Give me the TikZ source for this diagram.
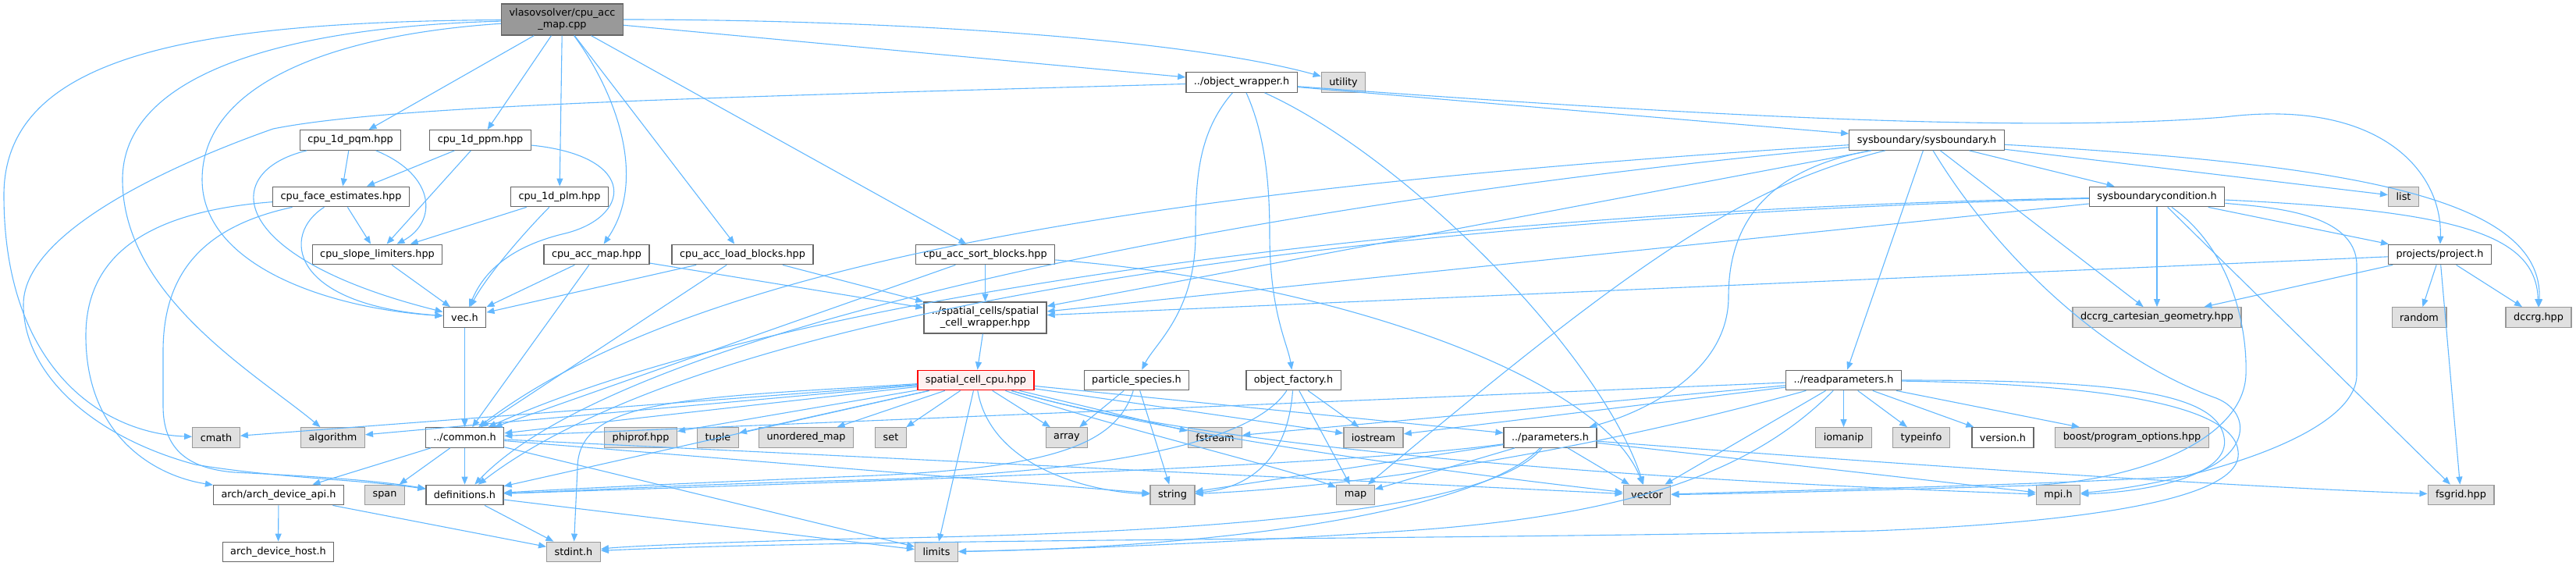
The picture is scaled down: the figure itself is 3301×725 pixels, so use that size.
\documentclass[tikz,border=0pt]{standalone}
\usepackage{xcolor}
\usepackage{fontspec}
\usepackage{tikz}
\usetikzlibrary{arrows.meta}
\newfontfamily\dvs{DejaVu Sans}
\definecolor{depblue}{HTML}{63B8FF}
\definecolor{boxgray}{HTML}{E0E0E0}
\definecolor{rootgray}{HTML}{999999}
\begin{document}
\begin{tikzpicture}[x=1pt,y=-1pt,
  file/.style={draw=black!60,fill=white,line width=1.3pt,inner xsep=10pt,inner ysep=0pt,minimum height=25.5pt,font=\dvs\fontsize{12.8}{15}\selectfont},
  ext/.style={file,draw=black!40,fill=boxgray},
  rootfile/.style={file,draw=black!60,fill=rootgray,align=center,minimum height=40pt},
  trunc/.style={file,draw=red,fill=red!6},
  dep/.style={draw=depblue,line width=1.1pt,-{Triangle[length=10pt,width=8pt]}}]
\useasboundingbox (0,0) rectangle (3301,725);

\node[rootfile] (root) at (720.5,25) {vlasovsolver/cpu\_acc\\\_map.cpp};
\node[file] (pqm) at (449,179.5) {cpu\_1d\_pqm.hpp};
\node[file] (ppm) at (615.5,179.5) {cpu\_1d\_ppm.hpp};
\node[file] (face) at (437,252) {cpu\_face\_estimates.hpp};
\node[file] (plm) at (717,252) {cpu\_1d\_plm.hpp};
\node[file] (slope) at (483.5,326) {cpu\_slope\_limiters.hpp};
\node[file] (accmap) at (764.5,326) {cpu\_acc\_map.hpp};
\node[file] (loadblk) at (951.5,326) {cpu\_acc\_load\_blocks.hpp};
\node[file] (sortblk) at (1262.5,326) {cpu\_acc\_sort\_blocks.hpp};
\node[file] (objw) at (1591,105.5) {../object\_wrapper.h};
\node[ext] (utility) at (1721.5,105.5) {utility};
\node[file] (sysb) at (2469,179.5) {sysboundary/sysboundary.h};
\node[file] (sysbc) at (2764,252) {sysboundarycondition.h};
\node[ext] (list) at (3080,252) {list};
\node[file] (project) at (3126.5,326) {projects/project.h};
\node[file] (vec) at (595.5,406.5) {vec.h};
\node[file,align=center,minimum height=40pt] (cellwrap) at (1262.5,407) {../spatial\_cells/spatial\\\_cell\_wrapper.hpp};
\node[ext] (dccrgcart) at (2764,406.5) {dccrg\_cartesian\_geometry.hpp};
\node[ext] (random) at (3100,406.5) {random};
\node[ext] (dccrg) at (3253,406.5) {dccrg.hpp};
\node[trunc] (cellcpu) at (1250.5,487) {spatial\_cell\_cpu.hpp};
\node[file] (species) at (1456.5,487) {particle\_species.h};
\node[file] (factory) at (1657.5,487) {object\_factory.h};
\node[file] (readp) at (2362.5,487) {../readparameters.h};
\node[ext] (cmath) at (277,560.5) {cmath};
\node[ext] (algorithm) at (426.5,560.5) {algorithm};
\node[file] (common) at (595.5,560.5) {../common.h};
\node[ext] (phiprof) at (821,560.5) {phiprof.hpp};
\node[ext] (tuple) at (920,560.5) {tuple};
\node[ext] (umap) at (1033,560.5) {unordered\_map};
\node[ext] (set) at (1141.5,560.5) {set};
\node[ext] (array) at (1367,560.5) {array};
\node[ext] (fstream) at (1557,560.5) {fstream};
\node[ext] (iostream) at (1760,560.5) {iostream};
\node[file] (params) at (1986.5,560.5) {../parameters.h};
\node[ext] (iomanip) at (2362.5,560.5) {iomanip};
\node[ext] (typeinfo) at (2462,560.5) {typeinfo};
\node[file] (version) at (2566.5,560.5) {version.h};
\node[ext] (boost) at (2732,560.5) {boost/program\_options.hpp};
\node[file] (archapi) at (357,634) {arch/arch\_device\_api.h};
\node[ext] (span) at (493,634) {span};
\node[file] (defs) at (595.5,634) {definitions.h};
\node[ext] (string) at (1502.5,634) {string};
\node[ext] (map) at (1737,634) {map};
\node[ext] (vector) at (2110.5,634) {vector};
\node[ext] (mpi) at (2637.5,634) {mpi.h};
\node[ext] (fsgrid) at (3153.5,634) {fsgrid.hpp};
\node[file] (archhost) at (356.5,707) {arch\_device\_host.h};
\node[ext] (stdint) at (735,707) {stdint.h};
\node[ext] (limits) at (1200,707) {limits};

\draw[dep] (root) .. controls (250,28) and (5,70) .. (5,250) .. controls (5,470) and (130,555) .. (cmath);
\draw[dep] (root) .. controls (350,35) and (157,100) .. (157,230) .. controls (157,380) and (330,480) .. (algorithm);
\draw[dep] (root) .. controls (420,45) and (259,110) .. (259,230) .. controls (259,340) and (420,395) .. (vec);
\draw[dep] (root) -- (pqm);
\draw[dep] (root) -- (ppm);
\draw[dep] (root) -- (plm);
\draw[dep] (root) .. controls (790,120) and (830,230) .. (accmap);
\draw[dep] (root) -- (loadblk);
\draw[dep] (root) -- (sortblk);
\draw[dep] (root) -- (objw);
\draw[dep] (root) .. controls (1100,25) and (1500,45) .. (utility);

\draw[dep] (pqm) -- (face);
\draw[dep] (pqm) .. controls (560,225) and (560,285) .. (slope);
\draw[dep] (pqm) .. controls (280,220) and (290,330) .. (vec);
\draw[dep] (ppm) -- (face);
\draw[dep] (ppm) -- (slope);
\draw[dep] (ppm) .. controls (820,200) and (810,280) .. (720,300) .. controls (640,320) and (615,360) .. (vec);
\draw[dep] (plm) -- (slope);
\draw[dep] (plm) .. controls (660,310) and (620,360) .. (vec);
\draw[dep] (face) -- (slope);
\draw[dep] (face) .. controls (360,300) and (370,390) .. (vec);
\draw[dep] (face) .. controls (200,270) and (110,320) .. (110,430) .. controls (110,560) and (200,610) .. (archapi);
\draw[dep] (face) .. controls (260,290) and (209,350) .. (209,450) -- (209,520) .. controls (209,575) and (240,600) .. (300,605) .. controls (400,610) and (480,615) .. (defs);
\draw[dep] (slope) -- (vec);
\draw[dep] (accmap) -- (vec);
\draw[dep] (accmap) -- (common);
\draw[dep] (accmap) -- (cellwrap);
\draw[dep] (loadblk) -- (vec);
\draw[dep] (loadblk) -- (common);
\draw[dep] (loadblk) -- (cellwrap);
\draw[dep] (sortblk) -- (common);
\draw[dep] (sortblk) -- (cellwrap);
\draw[dep] (sortblk) .. controls (1700,360) and (2050,480) .. (vector);
\draw[dep] (vec) -- (common);

\draw[dep] (common) -- (archapi);
\draw[dep] (common) -- (span);
\draw[dep] (common) -- (defs);
\draw[dep] (common) -- (string);
\draw[dep] (common) -- (vector);
\draw[dep] (common) -- (limits);
\draw[dep] (defs) -- (stdint);
\draw[dep] (defs) -- (limits);
\draw[dep] (archapi) -- (archhost);
\draw[dep] (archapi) -- (stdint);

\draw[dep] (objw) .. controls (900,125) and (500,135) .. (350,165) .. controls (250,200) and (30,290) .. (30,390) .. controls (30,480) and (120,560) .. (250,595) .. controls (350,612) and (470,615) .. (defs);
\draw[dep] (objw) .. controls (1535,170) and (1532,230) .. (1532,300) .. controls (1532,400) and (1480,440) .. (species);
\draw[dep] (objw) .. controls (1620,170) and (1627,230) .. (1627,300) .. controls (1627,400) and (1650,440) .. (factory);
\draw[dep] (objw) .. controls (1800,200) and (2050,450) .. (vector);
\draw[dep] (objw) -- (sysb);
\draw[dep] (objw) .. controls (2200,150) and (2600,170) .. (2850,150) .. controls (3050,125) and (3130,220) .. (project);

\draw[dep] (cellwrap) -- (cellcpu);
\draw[dep] (cellcpu) -- (cmath);
\draw[dep] (cellcpu) -- (algorithm);
\draw[dep] (cellcpu) -- (common);
\draw[dep] (cellcpu) -- (phiprof);
\draw[dep] (cellcpu) -- (tuple);
\draw[dep] (cellcpu) -- (umap);
\draw[dep] (cellcpu) -- (set);
\draw[dep] (cellcpu) -- (array);
\draw[dep] (cellcpu) -- (fstream);
\draw[dep] (cellcpu) -- (iostream);
\draw[dep] (cellcpu) -- (limits);
\draw[dep] (cellcpu) -- (params);
\draw[dep] (cellcpu) -- (defs);
\draw[dep] (cellcpu) .. controls (1400,540) and (1650,600) .. (map);
\draw[dep] (cellcpu) .. controls (1500,560) and (1900,610) .. (vector);
\draw[dep] (cellcpu) .. controls (1600,590) and (2300,622) .. (mpi);
\draw[dep] (cellcpu) .. controls (1270,600) and (1400,630) .. (string);
\draw[dep] (cellcpu) .. controls (880,510) and (740,510) .. (740,600) -- (stdint);

\draw[dep] (species) -- (array);
\draw[dep] (species) -- (string);
\draw[dep] (species) .. controls (1430,570) and (1350,600) .. (1100,610) .. controls (900,618) and (750,625) .. (defs);
\draw[dep] (factory) -- (iostream);
\draw[dep] (factory) -- (map);
\draw[dep] (factory) .. controls (1650,590) and (1600,625) .. (string);
\draw[dep] (factory) .. controls (1610,560) and (1450,605) .. (1100,615) .. controls (900,620) and (750,628) .. (defs);

\draw[dep] (params) -- (map);
\draw[dep] (params) -- (vector);
\draw[dep] (params) -- (string);
\draw[dep] (params) -- (mpi);
\draw[dep] (params) .. controls (2500,600) and (2900,625) .. (fsgrid);
\draw[dep] (params) .. controls (1900,650) and (1600,700) .. (limits);
\draw[dep] (params) .. controls (1900,670) and (1400,685) .. (1100,690) .. controls (900,695) and (800,700) .. (stdint);
\draw[dep] (params) .. controls (1700,600) and (1000,620) .. (defs);

\draw[dep] (readp) -- (common);
\draw[dep] (readp) -- (iostream);
\draw[dep] (readp) -- (fstream);
\draw[dep] (readp) .. controls (2100,560) and (1800,620) .. (string);
\draw[dep] (readp) -- (vector);
\draw[dep] (readp) -- (iomanip);
\draw[dep] (readp) -- (typeinfo);
\draw[dep] (readp) -- (version);
\draw[dep] (readp) -- (boost);
\draw[dep] (readp) .. controls (2250,600) and (2100,660) .. (1800,680) .. controls (1500,700) and (1300,705) .. (limits);
\draw[dep] (readp) .. controls (2700,487) and (2840,500) .. (2850,560) .. controls (2860,610) and (2750,630) .. (mpi);
\draw[dep] (readp) .. controls (2700,492) and (2875,520) .. (2868,585) .. controls (2860,650) and (2600,672) .. (2400,680) .. controls (1800,692) and (1100,690) .. (stdint);

\draw[dep] (sysb) -- (sysbc);
\draw[dep] (sysb) -- (list);
\draw[dep] (sysb) .. controls (3000,210) and (3260,250) .. (dccrg);
\draw[dep] (sysb) -- (dccrgcart);
\draw[dep] (sysb) -- (readp);
\draw[dep] (sysb) .. controls (2250,220) and (2215,300) .. (2215,380) .. controls (2215,480) and (2100,530) .. (params);
\draw[dep] (sysb) .. controls (2236,238) and (2100,330) .. (map);
\draw[dep] (sysb) -- (cellwrap);
\draw[dep] (sysb) .. controls (2560,330) and (2700,460) .. (2840,510) .. controls (2890,530) and (2880,590) .. (2800,610) .. controls (2600,622) and (2300,628) .. (vector);
\draw[dep] (sysb) .. controls (1500,240) and (900,330) .. (common);
\draw[dep] (sysb) .. controls (1600,260) and (800,420) .. (defs);

\draw[dep] (sysbc) -- (dccrgcart);
\draw[dep] (sysbc) -- (project);
\draw[dep] (sysbc) -- (fsgrid);
\draw[dep] (sysbc) .. controls (3150,270) and (3250,300) .. (dccrg);
\draw[dep] (sysbc) .. controls (2900,265) and (3020,270) .. (3020,340) -- (3020,480) .. controls (3020,560) and (2800,620) .. (mpi);
\draw[dep] (sysbc) .. controls (2860,320) and (2880,420) .. (2878,480) .. controls (2875,560) and (2750,615) .. (2600,622) .. controls (2400,628) and (2250,632) .. (vector);
\draw[dep] (sysbc) -- (cellwrap);
\draw[dep] (sysbc) .. controls (1700,280) and (900,400) .. (defs);
\draw[dep] (sysbc) .. controls (1800,270) and (1000,380) .. (common);

\draw[dep] (project) -- (cellwrap);
\draw[dep] (project) -- (dccrgcart);
\draw[dep] (project) -- (random);
\draw[dep] (project) -- (fsgrid);
\draw[dep] (project) -- (dccrg);
\end{tikzpicture}
\end{document}
